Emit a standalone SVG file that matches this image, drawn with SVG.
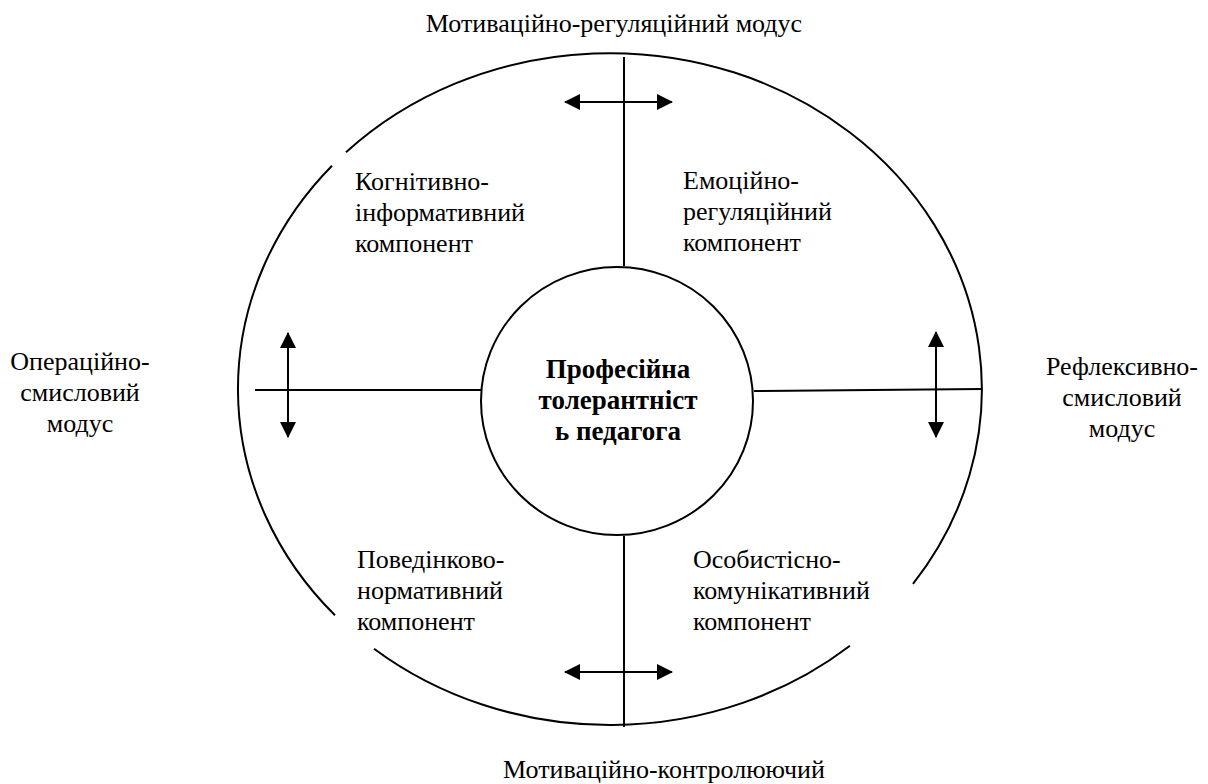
<svg xmlns="http://www.w3.org/2000/svg" width="1208" height="784" viewBox="0 0 1208 784">
<style>
.ln{stroke:#000;stroke-width:2;fill:none}
text{font-family:'Liberation Serif','Times New Roman',serif;font-size:26px;fill:#000}
.c{text-anchor:middle}
.b{font-weight:bold;font-size:27px}
</style>
<defs>
<marker id="ah" viewBox="0 0 16 16" refX="15" refY="8" markerWidth="16" markerHeight="16" markerUnits="userSpaceOnUse" orient="auto-start-reverse">
<path d="M0,0 L16,8 L0,16 Z" fill="#000"/>
</marker>
</defs>
<rect width="1208" height="784" fill="#fff"/>
<g id="outer">
<path class="ln" d="M346,152.3 A372,336 0 0 1 913,583.9 M850,645.7 A372,336 0 0 1 374,648.7 M335,615.3 A372,336 0 0 1 332,165.7"/>
</g>
<g id="center">
<ellipse class="ln" cx="617" cy="401" rx="136" ry="134"/>
<text class="c b" x="618" y="378">Професійна</text>
<text class="c b" x="618" y="409">толерантніст</text>
<text class="c b" x="618" y="440">ь педагога</text>
</g>
<g id="connectors">
<line class="ln" x1="624" y1="57" x2="624" y2="266"/>
<line class="ln" x1="624" y1="536" x2="624" y2="727"/>
<line class="ln" x1="255" y1="390" x2="481" y2="390"/>
<line class="ln" x1="754" y1="391" x2="982" y2="389"/>
<line class="ln" x1="565" y1="102" x2="672" y2="102" marker-start="url(#ah)" marker-end="url(#ah)"/>
<line class="ln" x1="565" y1="672" x2="672" y2="672" marker-start="url(#ah)" marker-end="url(#ah)"/>
<line class="ln" x1="288" y1="333" x2="288" y2="437" marker-start="url(#ah)" marker-end="url(#ah)"/>
<line class="ln" x1="936" y1="332" x2="936" y2="437" marker-start="url(#ah)" marker-end="url(#ah)"/>
</g>
<g id="mode-top"><text class="c" x="614" y="32">Мотиваційно-регуляційний модус</text></g>
<g id="mode-bottom"><text class="c" x="664" y="778">Мотиваційно-контролюючий</text></g>
<g id="mode-left">
<text class="c" x="80" y="370">Операційно-</text>
<text class="c" x="80" y="401">смисловий</text>
<text class="c" x="80" y="432">модус</text>
</g>
<g id="mode-right">
<text class="c" x="1122" y="375">Рефлексивно-</text>
<text class="c" x="1122" y="406">смисловий</text>
<text class="c" x="1122" y="437">модус</text>
</g>
<g id="comp-cognitive">
<text x="355" y="190">Когнітивно-</text>
<text x="355" y="221">інформативний</text>
<text x="355" y="252">компонент</text>
</g>
<g id="comp-emotional">
<text x="683" y="189">Емоційно-</text>
<text x="683" y="220">регуляційний</text>
<text x="683" y="251">компонент</text>
</g>
<g id="comp-behavioral">
<text x="357" y="568">Поведінково-</text>
<text x="357" y="599">нормативний</text>
<text x="357" y="630">компонент</text>
</g>
<g id="comp-personal">
<text x="693" y="568">Особистісно-</text>
<text x="693" y="599">комунікативний</text>
<text x="693" y="630">компонент</text>
</g>
</svg>
